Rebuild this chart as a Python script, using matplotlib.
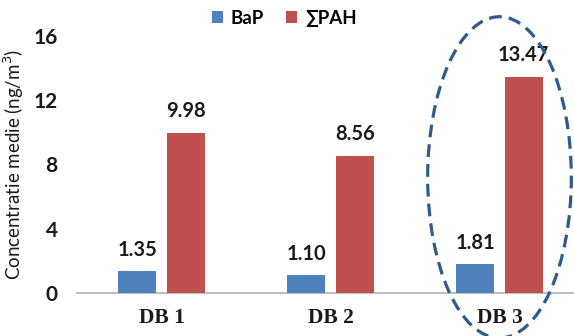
import matplotlib
matplotlib.use("Agg")
import matplotlib.pyplot as plt
import numpy as np
from matplotlib.patches import Ellipse

categories = ["DB 1", "DB 2", "DB 3"]
bap = [1.35, 1.10, 1.81]
pah = [9.98, 8.56, 13.47]
series_names = ["BaP", "\u2211PAH"]
yticks = [0, 4, 8, 12, 16]

c_bap = "#4F81BD"
c_pah = "#C0504D"
sans = ["Lato", "DejaVu Sans"]

fig = plt.figure(figsize=(5.74, 3.36), dpi=100)
ax = fig.add_axes([77 / 574, 43 / 336, 507 / 574, 257 / 336])

x = np.arange(len(categories))
w = 0.225
off = 0.143
b1 = ax.bar(x - off, bap, w, color=c_bap, label=series_names[0], zorder=3)
b2 = ax.bar(x + off, pah, w, color=c_pah, label=series_names[1], zorder=3)

for bars, vals in ((b1, bap), (b2, pah)):
    for r, v in zip(bars, vals):
        ax.text(r.get_x() + r.get_width() / 2, v + 0.7, f"{v:.2f}",
                ha="center", va="bottom", fontsize=14.5, fontweight="bold",
                family=sans, color="#1a1a1a")

ax.set_xlim(-0.5, 2.5)
ax.set_ylim(0, 16)
ax.set_yticks(yticks)
ax.set_yticklabels([str(t) for t in yticks], fontsize=15, fontweight="bold",
                   family=sans, color="#1a1a1a")
ax.set_xticks(x)
ax.set_xticklabels(categories, fontsize=15.5, fontweight="bold",
                   family="Liberation Serif", color="#1a1a1a")
ax.tick_params(axis="both", length=0)
ax.tick_params(axis="y", pad=14)
ax.tick_params(axis="x", pad=11)
for s in ("top", "right", "left"):
    ax.spines[s].set_visible(False)
ax.spines["bottom"].set_color("#BFBFBF")
ax.spines["bottom"].set_linewidth(1.5)

ax.set_ylabel("Concentratie medie (ng/m$^3$)", fontsize=13.5, family=sans,
              color="#1a1a1a", labelpad=5)

ell = Ellipse((2.0, 7.2), width=0.85, height=20.0, fill=False,
              edgecolor="#2E5A8C", linewidth=2.3, linestyle=(0, (4, 2.2)),
              clip_on=False, zorder=4)
ax.add_patch(ell)

fig.legend(handles=[b1, b2], labels=series_names, loc="center",
           bbox_to_anchor=(0.495, 0.945), ncol=2, frameon=False,
           prop={"family": sans, "weight": "bold", "size": 13.5},
           handlelength=0.6, handleheight=0.6, handletextpad=0.4,
           columnspacing=1.2)

fig.savefig("out.png", dpi=100)
